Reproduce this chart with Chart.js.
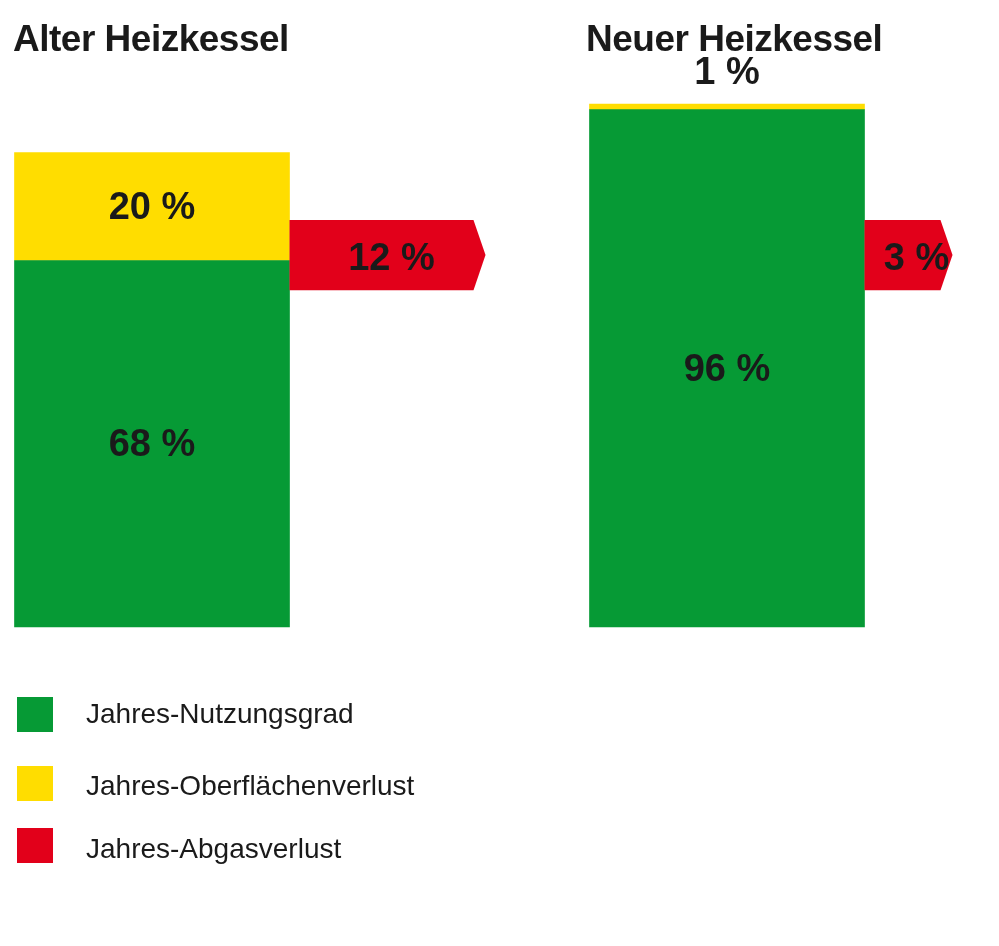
<!DOCTYPE html>
<html><head><meta charset="utf-8">
<script src="https://cdn.jsdelivr.net/npm/chart.js@4/dist/chart.umd.min.js"></script>
<style>
body{margin:0;background:#fff;font-family:"Liberation Sans",Arial,sans-serif;}
#wrap{position:relative;width:999px;height:946px;}
canvas{position:absolute;left:0;top:0;}
.t{position:absolute;top:18px;font-weight:bold;font-size:37px;color:#1a1a1a;letter-spacing:-0.5px}
.lg{position:absolute;left:17px;width:36px;height:35px}
.lt{position:absolute;left:86px;font-size:28px;color:#1a1a1a}
</style></head><body>
<div id="wrap">
<canvas id="c" width="999" height="946"></canvas>
<div class="t" style="left:13px">Alter Heizkessel</div>
<div class="t" style="left:586px">Neuer Heizkessel</div>
<div class="lg" style="top:697px;background:#069a35"></div><div class="lt" style="top:698px">Jahres-Nutzungsgrad</div>
<div class="lg" style="top:766px;background:#ffdd00"></div><div class="lt" style="top:770px">Jahres-Oberflächenverlust</div>
<div class="lg" style="top:828px;background:#e2001a"></div><div class="lt" style="top:833px">Jahres-Abgasverlust</div>
</div>
<script>
const categories=['Alter Heizkessel','Neuer Heizkessel'];
const nutzung=[68,96];
const oberflaeche=[20,1];
const abgas=[12,3];
const GREEN='#069a35',YELLOW='#ffdd00',RED='#e2001a',INK='#1a1a1a';
const labelPlugin={id:'lbl',afterDatasetsDraw(chart){
  const ctx=chart.ctx,y=chart.scales.y;
  ctx.save();
  ctx.font='bold 38px "Liberation Sans", Arial';ctx.textAlign='center';ctx.textBaseline='middle';
  chart.getDatasetMeta(0).data.forEach((b,i)=>{
    // arrow
    const right=b.x+b.width/2, top=y.getPixelForValue(75.5), bot=y.getPixelForValue(62.5);
    const len=40+abgas[i]*12;
    ctx.fillStyle=RED;ctx.beginPath();
    ctx.moveTo(right,top);ctx.lineTo(right+len,top);ctx.lineTo(right+len+12,(top+bot)/2);
    ctx.lineTo(right+len,bot);ctx.lineTo(right,bot);ctx.closePath();ctx.fill();
    ctx.fillStyle=INK;
    ctx.fillText(abgas[i]+' %',i==0?right+102:right+52,(top+bot)/2+4);
    ctx.fillText(nutzung[i]+' %',b.x,(b.y+b.base)/2+2);
    const yb=chart.getDatasetMeta(1).data[i];
    if(yb.base-yb.y>40) ctx.fillText(oberflaeche[i]+' %',b.x,(yb.y+yb.base)/2+2);
    else ctx.fillText(oberflaeche[i]+' %',b.x,yb.y-31);
  });
  ctx.restore();
}};
new Chart(document.getElementById('c'),{
  type:'bar',
  data:{labels:categories,datasets:[
    {data:nutzung,backgroundColor:GREEN,barThickness:275,clip:false},
    {data:oberflaeche,backgroundColor:YELLOW,barThickness:275,clip:false}]},
  options:{responsive:false,animation:false,devicePixelRatio:1,
    layout:{padding:{left:152,right:272,top:88,bottom:319}},
    plugins:{legend:{display:false},tooltip:{enabled:false}},
    scales:{x:{stacked:true,display:false,offset:false},
            y:{stacked:true,display:false,min:0,max:100}}},
  plugins:[labelPlugin]
});
</script></body></html>
